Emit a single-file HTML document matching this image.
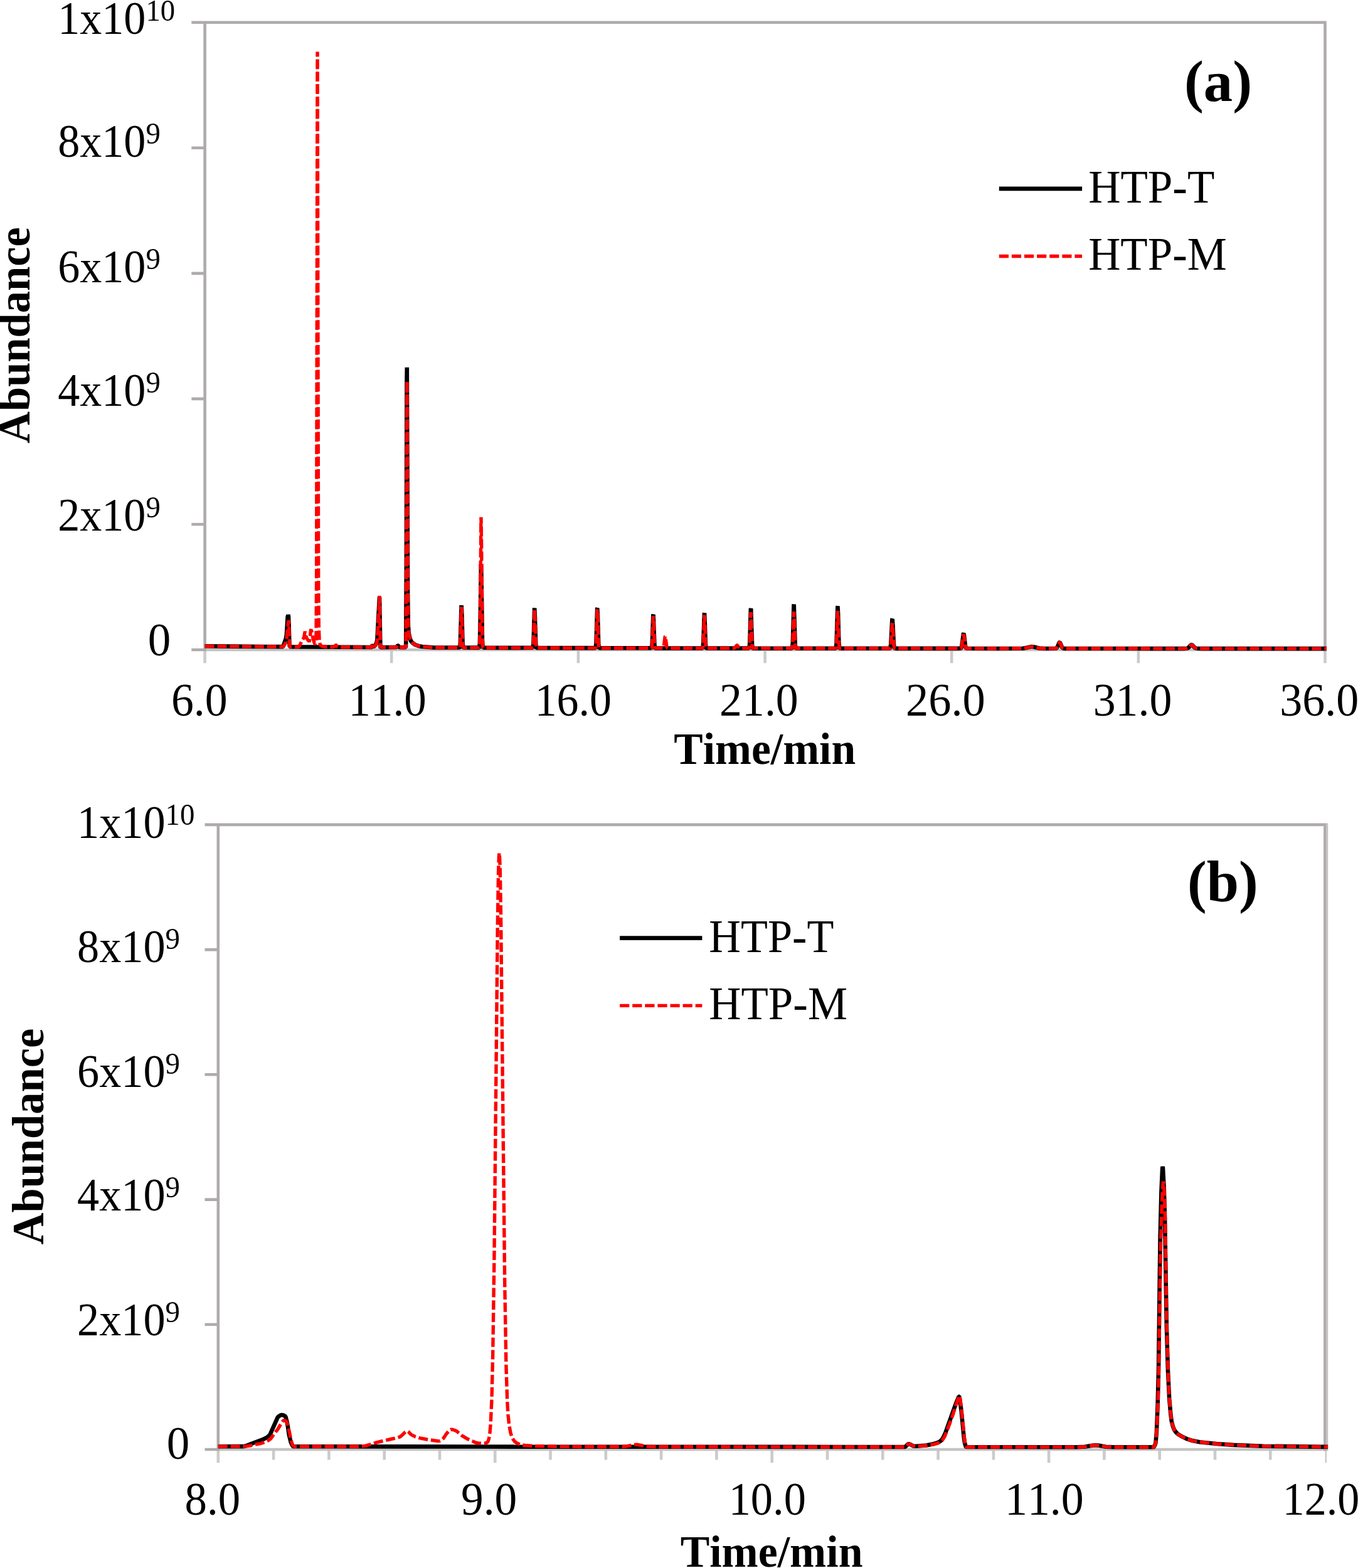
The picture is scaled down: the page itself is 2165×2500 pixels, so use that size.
<!DOCTYPE html>
<html lang="en"><head><meta charset="utf-8"><title>GC-MS chromatograms of HTP-T and HTP-M</title>
<style>
html,body{margin:0;padding:0;background:#fff;}
body{width:2165px;height:2500px;overflow:hidden;}
svg{display:block;}
text{font-family:"Liberation Serif","DejaVu Serif",serif;fill:#000;font-kerning:none;}
.tk{font-size:72px;}
.sup{font-size:48px;}
.ttl{font-size:72px;font-weight:bold;}
.pan{font-size:93px;font-weight:bold;}
.ax{stroke:#afabab;stroke-width:4.6;fill:none;stroke-linecap:butt;}
.xt{stroke:#cbcbcb;stroke-width:4.6;fill:none;stroke-linecap:butt;}
.kb{stroke:#000;stroke-width:6.6;fill:none;stroke-linejoin:bevel;stroke-linecap:butt;}
.kr{stroke:#ff0000;stroke-width:5.4;fill:none;stroke-dasharray:15 4.8;stroke-linejoin:bevel;}
</style></head><body>
<svg width="2165" height="2500" viewBox="0 0 2165 2500">
<rect width="2165" height="2500" fill="#fff"/>
<g id="chart-a">
<path class="xt" d="M326.6,1036.0 V1057.3 M624.2,1036.0 V1057.3 M921.9,1036.0 V1057.3 M1219.6,1036.0 V1057.3 M1517.2,1036.0 V1057.3 M1814.9,1036.0 V1057.3 M2112.5,1036.0 V1057.3"/>
<path class="xt" style="stroke:#c3c3c3" d="M326.6,1036.0 H2114.8"/>
<path class="ax" d="M305.3,35.8 H2112.5 V1038.3 M305.3,1036.0 H326.6 M326.6,35.8 V1038.3 M305.3,235.8 H326.6 M305.3,435.9 H326.6 M305.3,635.9 H326.6 M305.3,836.0 H326.6"/>
<path class="kb" d="M326.6,1030.2 374.2,1030.6 421.8,1031.0 451.1,1031.1 452.3,1028.3 455.9,1017.8 456.9,1011.5 458.6,983.3 459.4,980.7 459.9,982.1 460.5,994.7 461.4,1026.0 461.9,1031.2 509.1,1031.5 556.6,1031.8 593.3,1032.0 594.1,1027.2 595.3,1030.8 597.1,1030.1 598.8,1028.3 600.4,1024.7 601.3,1020.2 603.3,983.0 605.0,951.7 606.4,1031.3 606.6,1032.1 631.3,1032.0 632.6,1031.1 634.0,1029.2 634.7,1029.4 636.8,1031.9 639.0,1032.2 646.8,1032.2 647.2,1024.9 647.8,909.9 648.5,602.5 648.8,585.8 649.4,749.6 650.1,948.3 650.8,996.1 651.6,1008.9 653.1,1016.2 655.0,1021.7 656.9,1024.3 662.0,1028.0 666.5,1029.7 672.8,1031.0 690.4,1032.4 732.5,1032.5 733.1,1031.7 733.8,1025.7 735.6,965.8 735.7,965.2 736.3,978.6 737.6,1025.7 738.3,1031.7 739.0,1032.5 763.7,1032.6 764.3,1031.5 764.9,1025.2 765.7,987.2 766.9,900.5 767.0,899.3 767.6,925.9 768.9,1019.0 769.6,1030.9 770.2,1032.5 773.2,1032.7 820.8,1032.9 849.2,1032.8 849.7,1031.7 850.5,1024.4 852.1,970.1 852.2,969.6 852.8,982.2 854.2,1026.5 854.9,1032.1 855.6,1032.9 903.2,1033.1 949.0,1033.1 949.6,1032.3 950.4,1026.7 952.1,970.1 952.3,969.6 952.9,982.3 954.2,1026.7 954.9,1032.4 955.6,1033.2 1003.2,1033.3 1038.3,1033.3 1038.9,1032.5 1039.7,1027.0 1041.3,980.8 1041.6,979.8 1042.4,1000.8 1043.5,1028.6 1044.2,1032.8 1044.9,1033.4 1092.4,1033.5 1119.9,1033.4 1120.5,1032.4 1121.2,1025.9 1122.9,978.0 1123.0,977.5 1123.6,988.7 1124.9,1027.8 1125.6,1032.8 1126.3,1033.5 1174.0,1033.6 1194.0,1033.5 1194.5,1032.6 1195.3,1026.1 1196.9,971.3 1197.2,970.2 1198.0,995.1 1199.1,1028.0 1199.8,1032.9 1200.5,1033.6 1248.1,1033.7 1262.5,1033.6 1263.1,1032.6 1263.8,1025.4 1265.5,964.8 1265.7,963.5 1266.6,991.1 1267.7,1027.5 1268.4,1032.9 1269.1,1033.7 1316.7,1033.8 1332.2,1033.6 1332.8,1032.7 1333.5,1026.7 1334.7,987.8 1335.4,966.8 1335.5,966.3 1336.1,978.3 1337.4,1024.6 1338.1,1032.2 1338.7,1033.6 1341.2,1033.8 1388.9,1033.8 1418.5,1033.7 1419.3,1032.8 1420.2,1028.1 1421.5,1004.0 1422.4,987.5 1422.7,987.0 1423.4,995.9 1424.9,1026.9 1425.8,1032.5 1426.5,1033.6 1429.3,1033.9 1477.0,1033.9 1524.6,1033.9 1531.5,1033.8 1532.4,1032.9 1533.4,1029.8 1535.9,1010.4 1536.2,1009.9 1537.0,1012.9 1539.0,1029.8 1539.9,1032.9 1541.0,1033.8 1588.6,1034.0 1630.9,1033.8 1636.7,1032.8 1643.6,1031.1 1647.5,1031.2 1656.6,1033.5 1665.2,1034.0 1683.3,1033.8 1684.8,1032.9 1686.4,1030.1 1688.6,1024.4 1689.4,1024.0 1690.3,1025.2 1693.1,1032.1 1694.5,1033.6 1697.0,1034.0 1744.6,1034.0 1792.2,1034.0 1839.9,1034.1 1887.5,1034.1 1892.5,1033.8 1894.7,1032.6 1898.8,1028.3 1900.1,1028.1 1901.8,1029.4 1905.0,1032.9 1907.2,1033.8 1915.8,1034.1 1963.4,1034.1 2011.1,1034.1 2058.7,1034.1 2106.3,1034.1 2112.5,1034.1 2114.8,1034.1"/>
<path class="kr" d="M326.6,1030.2 374.2,1030.6 421.8,1031.0 451.4,1031.1 453.6,1028.3 455.5,1024.8 456.9,1019.4 459.8,989.4 460.3,990.6 461.9,1030.7 462.1,1031.2 476.0,1031.2 477.3,1030.1 480.7,1023.1 484.5,1016.7 485.4,1011.3 486.3,1006.8 487.0,1011.1 488.3,1016.1 490.1,1019.4 492.9,1022.6 493.4,1021.9 494.2,1016.8 495.5,1004.5 495.9,1004.0 497.0,1006.9 498.9,1017.5 501.3,1025.5 502.1,1026.2 503.0,1026.1 503.5,1024.6 504.0,1013.5 504.6,923.7 506.0,86.4 506.1,82.6 507.7,934.9 508.3,1000.3 509.1,1020.6 510.1,1026.6 511.3,1029.1 513.2,1030.3 518.0,1031.2 532.0,1031.6 533.3,1031.1 535.3,1028.3 536.0,1028.5 538.1,1031.3 540.0,1031.7 587.6,1032.0 593.3,1032.0 594.1,1027.2 595.3,1030.8 597.5,1030.0 599.1,1028.3 600.6,1025.4 601.4,1020.9 602.9,994.6 605.0,950.0 606.4,1030.0 606.6,1032.1 631.3,1032.0 632.6,1031.1 634.0,1029.2 634.7,1029.4 636.8,1031.9 639.0,1032.2 646.8,1032.2 647.2,1024.9 647.9,882.6 648.7,626.6 648.9,607.7 649.4,735.1 650.1,947.8 650.8,996.1 651.6,1008.9 653.1,1016.2 655.0,1021.7 656.9,1024.3 662.0,1028.0 666.5,1029.7 672.8,1031.0 690.4,1032.4 732.5,1032.5 733.1,1031.7 733.8,1026.0 735.6,968.6 735.7,968.0 736.3,980.9 737.6,1026.0 738.3,1031.7 739.0,1032.6 763.6,1032.6 764.1,1031.5 764.7,1024.3 765.6,974.8 766.9,826.4 767.0,824.6 767.6,866.0 768.9,1011.3 769.6,1029.9 770.2,1032.4 771.4,1032.7 819.0,1032.9 849.2,1032.8 849.7,1031.8 850.5,1024.7 852.1,972.5 852.2,972.0 852.8,984.1 854.2,1026.7 854.9,1032.1 855.6,1032.9 903.2,1033.1 949.2,1033.1 949.8,1032.0 950.5,1024.9 952.1,972.5 952.3,972.0 952.9,984.2 954.2,1026.9 954.9,1032.4 955.6,1033.2 1003.2,1033.3 1038.3,1033.3 1038.9,1032.6 1039.7,1027.4 1041.3,983.5 1041.6,982.6 1042.4,1002.5 1043.5,1028.9 1044.2,1032.8 1045.0,1033.4 1056.8,1033.3 1057.6,1032.4 1058.6,1028.1 1060.2,1014.8 1060.6,1014.5 1061.6,1020.8 1062.9,1030.9 1063.7,1032.9 1064.9,1033.4 1112.5,1033.5 1119.9,1033.4 1120.5,1032.5 1121.2,1026.4 1122.9,981.3 1123.0,980.8 1123.6,991.3 1124.9,1028.1 1125.6,1032.8 1126.3,1033.5 1170.1,1033.5 1171.7,1032.6 1174.5,1028.7 1175.4,1028.8 1178.5,1032.9 1180.3,1033.6 1194.0,1033.5 1194.5,1032.7 1195.3,1026.9 1196.9,977.4 1197.2,976.4 1198.0,998.9 1199.1,1028.5 1199.8,1033.0 1200.5,1033.6 1248.1,1033.7 1262.5,1033.6 1263.1,1032.7 1263.8,1026.8 1265.5,976.3 1265.7,975.3 1266.6,998.2 1267.7,1028.5 1268.4,1033.1 1269.1,1033.7 1316.7,1033.8 1332.2,1033.6 1332.9,1032.4 1333.6,1025.7 1335.4,974.6 1335.5,974.1 1336.1,984.7 1337.4,1025.7 1338.1,1032.4 1338.8,1033.7 1386.5,1033.8 1418.6,1033.7 1419.5,1032.7 1420.3,1027.9 1422.4,994.6 1422.7,994.2 1423.4,1001.7 1424.9,1027.9 1425.8,1032.7 1426.6,1033.7 1474.2,1033.9 1521.8,1033.9 1531.5,1033.8 1532.4,1033.0 1533.5,1029.5 1535.8,1012.4 1536.2,1011.5 1537.0,1014.3 1539.0,1030.1 1539.9,1033.0 1541.0,1033.8 1588.6,1034.0 1630.9,1033.8 1636.7,1032.8 1643.6,1031.1 1647.5,1031.2 1656.6,1033.5 1665.2,1034.0 1683.3,1033.8 1684.8,1032.9 1686.4,1030.1 1688.6,1024.4 1689.4,1024.0 1690.3,1025.2 1693.1,1032.1 1694.5,1033.6 1697.0,1034.0 1744.6,1034.0 1792.2,1034.0 1839.9,1034.1 1887.5,1034.1 1892.5,1033.8 1894.7,1032.6 1898.8,1028.3 1900.1,1028.1 1901.8,1029.4 1905.0,1032.9 1907.2,1033.8 1915.8,1034.1 1963.4,1034.1 2011.1,1034.1 2058.7,1034.1 2106.3,1034.1 2112.5,1034.1 2114.8,1034.1"/>
<text class="tk" transform="translate(92.20,53.60) scale(0.9740,1.024)">1x10<tspan class="sup" dy="-20.5">10</tspan></text>
<text class="tk" transform="translate(92.20,250.30) scale(0.9740,1.024)">8x10<tspan class="sup" dy="-20.5">9</tspan></text>
<text class="tk" transform="translate(92.20,449.90) scale(0.9740,1.024)">6x10<tspan class="sup" dy="-20.5">9</tspan></text>
<text class="tk" transform="translate(92.20,647.00) scale(0.9740,1.024)">4x10<tspan class="sup" dy="-20.5">9</tspan></text>
<text class="tk" transform="translate(92.20,846.20) scale(0.9740,1.024)">2x10<tspan class="sup" dy="-20.5">9</tspan></text>
<text class="tk" transform="translate(235.85,1044.60) scale(1.0140,1.024)">0</text>
<text class="tk" transform="translate(272.91,1141.00) scale(0.9964,1.024)">6.0</text>
<text class="tk" transform="translate(555.49,1141.00) scale(0.9860,1.024)">11.0</text>
<text class="tk" transform="translate(852.70,1141.00) scale(0.9700,1.024)">16.0</text>
<text class="tk" transform="translate(1147.11,1141.00) scale(0.9975,1.024)">21.0</text>
<text class="tk" transform="translate(1443.98,1141.00) scale(1.0067,1.024)">26.0</text>
<text class="tk" transform="translate(1742.71,1141.00) scale(0.9967,1.024)">31.0</text>
<text class="tk" transform="translate(2040.30,1141.00) scale(0.9992,1.024)">36.0</text>
<text class="ttl" transform="translate(1074.23,1217.90) scale(0.9666,1.000)">Time/min</text>
<text class="ttl" transform="translate(47.40,706.99) rotate(-90) scale(0.9794,1.000)">Abundance</text>
<path class="kb" style="stroke-width:6.6" d="M1592.8,300.9 H1725.1"/>
<text class="tk" transform="translate(1735.13,323.30) scale(0.9871,1.020)">HTP-T</text>
<path class="kr" style="stroke-width:5.4;stroke-dasharray:15.2 4.9" d="M1592.8,408.5 H1725.1"/>
<text class="tk" transform="translate(1735.13,429.90) scale(0.9855,1.020)">HTP-M</text>
<text class="pan" transform="translate(1887.90,161.30) scale(0.9990,1.000)">(a)</text>
</g>
<g id="chart-b">
<path class="xt" style="stroke-width:2.6" d="M2113.8,2311.0 V2332.3"/>
<path class="xt" d="M347.8,2311.0 V2332.3 M789.2,2311.0 V2332.3 M1230.7,2311.0 V2332.3 M1672.1,2311.0 V2332.3 M436.1,2311.0 V2327.5 M524.4,2311.0 V2327.5 M612.7,2311.0 V2327.5 M701.0,2311.0 V2327.5 M877.5,2311.0 V2327.5 M965.8,2311.0 V2327.5 M1054.1,2311.0 V2327.5 M1142.4,2311.0 V2327.5 M1319.0,2311.0 V2327.5 M1407.3,2311.0 V2327.5 M1495.6,2311.0 V2327.5 M1583.9,2311.0 V2327.5 M1760.4,2311.0 V2327.5 M1848.7,2311.0 V2327.5 M1937.0,2311.0 V2327.5 M2025.3,2311.0 V2327.5"/>
<path class="xt" style="stroke:#c3c3c3" d="M347.8,2311.0 H2114.7"/>
<path class="ax" d="M326.5,1314.9 H2112.4 V2313.3 M326.5,2311.0 H347.8 M347.8,1314.9 V2313.3 M326.5,1514.1 H347.8 M326.5,1713.3 H347.8 M326.5,1912.6 H347.8 M326.5,2111.8 H347.8"/>
<path d="M2116.0,1312.6 V2313.3" style="stroke:#c4c1c1;stroke-width:2.5;fill:none"/>
<path class="kb" d="M347.8,2306.2 388.4,2306.1 393.3,2304.9 407.0,2299.5 418.9,2295.2 425.9,2291.6 429.5,2288.6 431.2,2285.7 440.1,2265.7 442.3,2260.4 444.0,2258.5 447.1,2256.5 449.3,2255.9 452.0,2256.5 454.6,2257.9 455.5,2259.4 457.7,2267.9 459.0,2275.4 460.8,2287.8 463.5,2298.8 465.7,2303.8 467.0,2305.8 467.9,2306.3 644.5,2306.4 819.7,2306.6 996.3,2306.7 1172.4,2306.8 1349.0,2307.0 1442.6,2307.0 1443.9,2306.2 1447.5,2302.7 1448.8,2302.2 1451.4,2303.1 1456.3,2305.6 1460.7,2305.8 1476.6,2304.5 1486.7,2302.6 1494.7,2300.1 1499.1,2297.8 1501.3,2295.8 1504.0,2291.5 1507.5,2283.8 1520.3,2247.9 1524.3,2237.0 1527.4,2229.4 1528.7,2226.5 1529.1,2226.5 1530.0,2229.7 1532.7,2250.3 1536.6,2290.7 1537.9,2299.8 1539.7,2306.3 1540.2,2307.0 1716.7,2307.2 1729.1,2306.7 1739.3,2305.0 1745.4,2304.2 1751.2,2304.6 1763.1,2306.7 1775.0,2307.2 1839.0,2307.3 1839.9,2306.6 1842.1,2301.8 1842.5,2300.0 1843.9,2283.2 1845.6,2240.1 1847.0,2185.4 1849.6,1974.0 1851.4,1900.7 1853.1,1863.0 1853.6,1860.0 1854.0,1862.6 1855.8,1896.4 1857.1,1942.5 1859.8,2112.7 1862.0,2185.9 1864.2,2230.5 1866.4,2255.2 1867.7,2265.5 1869.9,2274.3 1872.1,2279.8 1874.8,2283.5 1878.3,2286.8 1884.0,2290.3 1892.9,2294.4 1901.3,2297.1 1912.7,2299.2 1939.7,2302.0 1966.6,2303.9 2014.7,2305.7 2113.6,2306.9 2117.1,2306.9"/>
<path class="kr" d="M347.8,2306.2 390.6,2306.1 400.3,2304.6 416.2,2301.3 423.7,2298.9 428.6,2296.2 432.1,2293.3 438.3,2284.4 442.7,2279.0 448.0,2270.1 451.1,2265.7 452.4,2264.7 454.6,2264.9 456.4,2265.8 457.7,2268.6 459.9,2276.1 464.3,2297.3 466.6,2304.2 467.9,2305.8 469.2,2306.3 572.9,2306.2 581.8,2305.4 590.2,2303.0 600.3,2299.9 623.3,2294.5 633.9,2292.3 637.8,2290.9 640.9,2288.3 646.2,2283.1 648.4,2282.0 649.8,2282.0 651.5,2283.2 655.5,2287.4 662.1,2290.6 669.6,2292.9 682.9,2295.4 698.3,2297.7 701.0,2297.3 704.5,2295.3 707.1,2293.1 712.0,2285.6 716.9,2280.3 718.6,2279.2 720.8,2279.2 725.2,2280.5 728.3,2282.0 736.7,2289.1 746.4,2294.8 758.8,2300.2 762.8,2301.0 772.0,2301.3 775.1,2300.7 776.9,2299.7 778.2,2297.7 779.5,2293.5 780.9,2285.2 782.2,2269.8 784.0,2230.4 785.7,2158.2 787.9,2006.8 793.2,1480.7 794.5,1394.6 795.4,1365.3 796.0,1359.9 796.3,1361.5 797.2,1383.0 798.5,1457.9 802.1,1801.8 804.7,2046.5 806.9,2177.5 808.7,2233.9 810.0,2256.2 811.8,2272.6 814.0,2284.5 816.2,2291.5 818.4,2295.6 821.0,2298.7 824.6,2301.2 829.4,2303.1 836.9,2304.5 853.3,2305.5 896.5,2306.4 991.9,2306.5 1000.3,2305.7 1011.7,2303.4 1016.6,2303.3 1025.0,2305.0 1032.9,2306.3 1046.6,2306.7 1223.2,2306.9 1399.8,2307.0 1442.6,2307.0 1443.9,2306.2 1447.5,2302.7 1448.8,2302.2 1451.4,2303.1 1456.3,2305.6 1460.7,2305.8 1477.5,2304.7 1488.5,2302.8 1495.6,2300.8 1500.0,2298.5 1502.2,2296.5 1505.7,2291.1 1509.3,2282.8 1519.0,2256.1 1524.3,2239.4 1527.4,2230.3 1528.7,2226.2 1529.4,2225.4 1530.0,2226.6 1532.2,2241.3 1537.1,2290.3 1538.4,2299.5 1540.2,2306.3 1540.6,2307.0 1717.2,2307.2 1729.1,2306.7 1739.3,2305.0 1745.4,2304.2 1751.2,2304.6 1763.1,2306.7 1775.0,2307.2 1839.0,2307.3 1839.9,2306.6 1842.1,2301.8 1843.0,2296.5 1844.8,2268.5 1847.0,2205.8 1849.2,2064.3 1850.5,1981.8 1852.3,1923.4 1853.6,1896.0 1854.5,1884.6 1854.7,1883.9 1855.4,1888.2 1856.7,1912.0 1857.6,1948.0 1859.8,2103.7 1862.0,2182.3 1863.7,2223.1 1865.5,2246.7 1867.7,2265.5 1869.9,2274.3 1872.1,2279.8 1874.8,2283.5 1878.3,2286.8 1884.0,2290.3 1892.9,2294.4 1901.3,2297.1 1912.7,2299.2 1939.7,2302.0 1966.6,2303.9 2014.7,2305.7 2113.6,2306.9 2117.1,2306.9"/>
<text class="tk" transform="translate(123.10,1336.20) scale(0.9755,1.024)">1x10<tspan class="sup" dy="-20.5">10</tspan></text>
<text class="tk" transform="translate(123.10,1533.80) scale(0.9755,1.024)">8x10<tspan class="sup" dy="-20.5">9</tspan></text>
<text class="tk" transform="translate(123.10,1732.50) scale(0.9755,1.024)">6x10<tspan class="sup" dy="-20.5">9</tspan></text>
<text class="tk" transform="translate(123.10,1929.90) scale(0.9755,1.024)">4x10<tspan class="sup" dy="-20.5">9</tspan></text>
<text class="tk" transform="translate(123.10,2128.80) scale(0.9755,1.024)">2x10<tspan class="sup" dy="-20.5">9</tspan></text>
<text class="tk" transform="translate(265.75,2326.00) scale(1.0140,1.024)">0</text>
<text class="tk" transform="translate(294.55,2415.30) scale(0.9833,1.024)">8.0</text>
<text class="tk" transform="translate(735.02,2415.30) scale(0.9905,1.024)">9.0</text>
<text class="tk" transform="translate(1161.65,2415.30) scale(0.9777,1.024)">10.0</text>
<text class="tk" transform="translate(1602.01,2415.30) scale(0.9982,1.024)">11.0</text>
<text class="tk" transform="translate(2044.78,2415.30) scale(0.9717,1.024)">12.0</text>
<text class="ttl" transform="translate(1084.63,2497.80) scale(0.9696,1.000)">Time/min</text>
<text class="ttl" transform="translate(68.70,1984.49) rotate(-90) scale(0.9797,1.000)">Abundance</text>
<path class="kb" style="stroke-width:6.6" d="M988.1,1495.6 H1119.4"/>
<text class="tk" transform="translate(1130.35,1517.90) scale(0.9756,1.020)">HTP-T</text>
<path class="kr" style="stroke-width:5.4;stroke-dasharray:15.2 4.9" d="M988.1,1603.4 H1119.4"/>
<text class="tk" transform="translate(1130.33,1624.50) scale(0.9850,1.020)">HTP-M</text>
<text class="pan" transform="translate(1892.93,1437.10) scale(0.9915,1.000)">(b)</text>
</g>
</svg></body></html>
